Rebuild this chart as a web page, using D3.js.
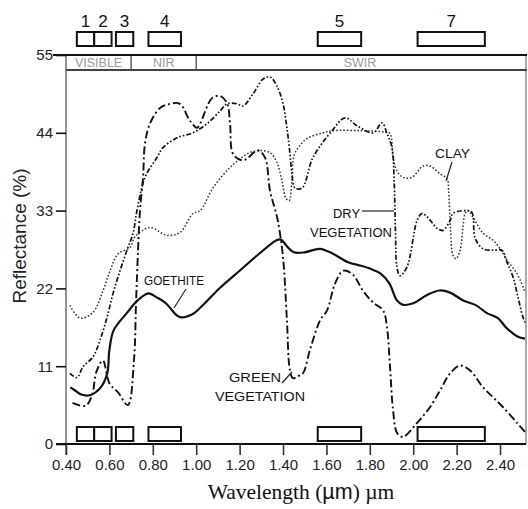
<!DOCTYPE html>
<html>
<head>
<meta charset="utf-8">
<script src="https://cdn.jsdelivr.net/npm/d3@7"></script>
<style>
  html, body { margin: 0; padding: 0; background: #fff; }
  svg { display: block; }
  text { font-family: "Liberation Sans", Arial, Helvetica, sans-serif; fill: #111; }
</style>
</head>
<body>
<svg id="chart" width="528" height="509"></svg>
<script>
// Spectral reflectance curves (wavelength in µm, reflectance in %)
const goethiteWl = [0.42,0.44,0.47,0.51,0.56,0.59,0.60,0.62,0.68,0.73,0.78,0.82,0.86,0.91,0.93,0.98,1.02,1.11,1.20,1.29,1.37,1.39,1.42,1.45,1.50,1.57,1.63,1.70,1.76,1.80,1.85,1.89,1.925,1.95,2.00,2.06,2.12,2.17,2.23,2.29,2.34,2.39,2.43,2.48,2.515];
const goethiteRef = [8.0,7.6,7.0,6.9,8.0,10.0,13.3,16.1,18.5,20.3,21.3,20.7,19.9,18.2,17.9,18.3,19.3,22.1,24.5,26.9,28.8,28.9,27.9,27.1,27.1,27.6,26.9,25.7,25.2,24.8,24.1,22.7,20.3,19.7,19.9,21.0,21.7,21.4,20.3,19.6,18.5,17.8,16.4,15.2,14.9];

const greenVegWl = [0.43,0.49,0.52,0.54,0.57,0.60,0.64,0.685,0.713,0.723,0.732,0.741,0.755,0.764,0.787,0.833,0.879,0.925,0.971,1.004,1.018,1.073,1.110,1.142,1.156,1.170,1.216,1.285,1.317,1.340,1.373,1.395,1.405,1.418,1.432,1.446,1.469,1.492,1.524,1.571,1.603,1.640,1.677,1.72,1.77,1.815,1.861,1.879,1.893,1.907,1.925,1.953,2.018,2.077,2.124,2.170,2.216,2.262,2.322,2.368,2.414,2.478,2.515];
const greenVegRef = [5.8,5.4,6.9,10.2,11.8,8.6,7.3,5.5,11.8,20.3,27.4,33.0,37.7,42.5,45.3,47.5,48.1,48.1,45.7,44.7,45.3,48.9,49.2,48.2,45.3,41.0,40.1,41.5,40.5,35.8,32.0,27.8,24.5,17.5,10.4,9.3,9.6,10.0,13.3,17.5,18.9,22.7,24.5,24.0,21.6,20.0,18.9,16.5,10.9,4.8,1.6,1.0,3.0,5.2,7.6,10.0,11.1,10.4,8.0,6.6,5.2,3.0,1.7];

const dryVegWl = [0.418,0.451,0.478,0.524,0.557,0.589,0.617,0.649,0.681,0.709,0.727,0.764,0.819,0.847,0.912,0.985,1.050,1.110,1.142,1.188,1.216,1.262,1.308,1.340,1.372,1.400,1.418,1.432,1.441,1.455,1.488,1.538,1.626,1.686,1.741,1.815,1.856,1.879,1.902,1.912,1.918,1.925,1.939,1.971,2.018,2.041,2.068,2.110,2.137,2.170,2.183,2.248,2.271,2.285,2.322,2.368,2.409,2.432,2.460,2.483,2.506,2.515];
const dryVegRef = [10.0,9.4,10.9,12.3,14.7,17.9,21.3,24.5,27.4,29.8,33.0,37.7,40.5,41.9,43.3,44.0,45.3,47.1,48.1,48.1,47.8,49.5,51.6,51.9,50.6,48.1,44.7,41.0,38.2,36.2,36.2,40.5,44.3,46.1,45.0,44.0,45.4,43.9,41.9,37.2,30.2,25.0,23.8,25.0,31.6,32.6,32.0,30.5,30.2,31.6,32.6,33.0,32.7,29.1,27.6,27.4,27.4,25.7,23.6,20.7,17.9,17.2];

const clayWl = [0.418,0.465,0.524,0.571,0.603,0.640,0.695,0.718,0.787,0.865,0.925,0.985,1.018,1.077,1.156,1.234,1.285,1.340,1.372,1.395,1.414,1.428,1.441,1.451,1.478,1.511,1.584,1.630,1.755,1.870,1.893,1.907,1.925,1.953,1.994,2.045,2.077,2.124,2.156,2.163,2.172,2.183,2.197,2.216,2.230,2.239,2.253,2.276,2.322,2.368,2.400,2.432,2.478,2.515];
const clayRef = [19.6,17.8,18.6,21.7,24.5,26.9,27.8,29.3,30.6,29.5,29.9,32.6,33.0,36.2,39.1,41.0,41.5,41.2,39.8,37.2,34.7,34.4,37.2,40.8,42.2,43.2,44.0,44.3,44.3,44.1,43.9,40.5,38.6,37.7,37.7,39.3,39.3,38.2,37.5,35.8,30.2,26.7,26.2,27.4,30.9,32.6,33.0,32.0,29.8,28.8,27.6,26.0,24.1,21.5];

// Axis ticks
const xTicks = [0.4,0.6,0.8,1.0,1.2,1.4,1.6,1.8,2.0,2.2,2.4];
const yTicks = [0,11,22,33,44,55];

// Spectral regions along the top
const regionNames = ["VISIBLE","NIR","SWIR"];
const regionEdges = [0.4,0.7,1.0,2.515];

// Landsat TM bands
const tmBandNames = ["1","2","3","4","5","7"];
const tmBandStart = [0.45,0.53,0.63,0.78,1.56,2.02];
const tmBandEnd   = [0.53,0.61,0.71,0.93,1.76,2.33];

const svg = d3.select("#chart");
const x = d3.scaleLinear().domain([0.4, 2.515]).range([66, 525]);
const y = d3.scaleLinear().domain([0, 55]).range([444, 55]);

// frame: left axis line and right border
svg.append("line").attr("x1", 66).attr("x2", 66).attr("y1", 55).attr("y2", 455)
  .attr("stroke", "#777").attr("stroke-width", 1.6);
svg.append("line").attr("x1", 526).attr("x2", 526).attr("y1", 55).attr("y2", 444)
  .attr("stroke", "#888").attr("stroke-width", 1.4);

// region strip
const yTop = y(55), yStrip = 70;
svg.append("line").attr("x1", 66).attr("x2", 527).attr("y1", yStrip).attr("y2", yStrip)
  .attr("stroke", "#444").attr("stroke-width", 1.8);
regionEdges.slice(1, -1).forEach(e => {
  svg.append("line").attr("x1", x(e)).attr("x2", x(e)).attr("y1", yTop).attr("y2", yStrip)
    .attr("stroke", "#555").attr("stroke-width", 1.4);
});
regionNames.forEach((n, i) => {
  const cx = (x(regionEdges[i]) + x(Math.min(regionEdges[i + 1], 2.4))) / 2;
  svg.append("text").attr("x", i === 2 ? 360 : cx).attr("y", 67)
    .attr("text-anchor", "middle").attr("font-size", 12.5)
    .style("fill", "#9a9a9a").text(n);
});
svg.append("line").attr("x1", 53).attr("x2", 527).attr("y1", yTop).attr("y2", yTop)
  .attr("stroke", "#111").attr("stroke-width", 2);

// x axis
svg.append("line").attr("x1", 56).attr("x2", 526).attr("y1", 444).attr("y2", 444)
  .attr("stroke", "#111").attr("stroke-width", 2);
const gx = svg.append("g").attr("transform", "translate(0,444)")
  .call(d3.axisBottom(x).tickValues(xTicks).tickFormat(d3.format(".2f")).tickSize(11).tickPadding(4));
gx.select(".domain").remove();
gx.selectAll(".tick line").attr("stroke", "#333").attr("stroke-width", 1.6);
gx.selectAll(".tick text").attr("font-size", 15).style("fill", "#222");

// y axis
const gy = svg.append("g").attr("transform", "translate(66,0)")
  .call(d3.axisLeft(y).tickValues(yTicks).tickSize(10).tickPadding(3));
gy.select(".domain").remove();
gy.selectAll(".tick line").attr("stroke", "#111").attr("stroke-width", 1.6);
gy.selectAll(".tick text").attr("font-size", 15).style("fill", "#222");

// axis titles
svg.append("text").attr("transform", "translate(26,236) rotate(-90)")
  .attr("text-anchor", "middle").attr("font-size", 19).style("fill", "#222")
  .text("Reflectance (%)");
const xt = svg.append("text").attr("x", 301).attr("y", 499).attr("text-anchor", "middle")
  .attr("font-size", 21.5).style("fill", "#111");
xt.append("tspan").style("font-family", "'Liberation Serif', 'Times New Roman', serif").text("Wavelength (");
xt.append("tspan").style("font-family", "'Liberation Sans', Arial, sans-serif").text("µm");
xt.append("tspan").style("font-family", "'Liberation Serif', 'Times New Roman', serif").text(") µm");

// TM band boxes, top and bottom rows
[[32, 46], [427, 441]].forEach(([t, b]) => {
  tmBandNames.forEach((n, i) => {
    svg.append("rect").attr("x", x(tmBandStart[i])).attr("y", t)
      .attr("width", x(tmBandEnd[i]) - x(tmBandStart[i])).attr("height", b - t)
      .attr("fill", "#fff").attr("stroke", "#111").attr("stroke-width", 2);
  });
});
tmBandNames.forEach((n, i) => {
  svg.append("text").attr("x", x((tmBandStart[i] + tmBandEnd[i]) / 2)).attr("y", 27)
    .attr("text-anchor", "middle").attr("font-size", 17).style("fill", "#111").text(n);
});

// spectra
const line = d3.line().x(d => x(d[0])).y(d => y(d[1])).curve(d3.curveCatmullRom.alpha(0.5));
const series = [
  { wl: clayWl, ref: clayRef, dash: "1.6,1.9", width: 1.5, color: "#333" },
  { wl: dryVegWl, ref: dryVegRef, dash: "5,2,1.6,2,1.6,2", width: 1.7, color: "#111" },
  { wl: greenVegWl, ref: greenVegRef, dash: "8,3,2,3", width: 1.9, color: "#111" },
  { wl: goethiteWl, ref: goethiteRef, dash: null, width: 2.2, color: "#111" }
];
series.forEach(s => {
  svg.append("path").datum(s.wl.map((w, i) => [w, s.ref[i]]))
    .attr("d", line).attr("fill", "none").attr("stroke", s.color)
    .attr("stroke-width", s.width).attr("stroke-dasharray", s.dash)
    .attr("stroke-linejoin", "round");
});

// curve labels with leader lines
const labelFont = 13;
function label(txt, lx, ly, len) {
  svg.append("text").attr("x", lx).attr("y", ly).attr("font-size", labelFont)
    .attr("textLength", len).attr("lengthAdjust", "spacingAndGlyphs")
    .style("fill", "#111").text(txt);
}
function leader(x1, y1, x2, y2) {
  svg.append("line").attr("x1", x1).attr("y1", y1).attr("x2", x2).attr("y2", y2)
    .attr("stroke", "#222").attr("stroke-width", 1.2);
}
label("GOETHITE", 144, 285, 60);
leader(186, 289, 174, 308);
label("GREEN", 229, 382, 52);
label("VEGETATION", 215, 401, 90);
leader(282, 383, 292, 372);
label("DRY", 333, 218, 27);
label("VEGETATION", 310, 237, 82);
leader(362, 211, 394, 211);
label("CLAY", 435, 158, 35);
leader(452, 162, 446, 181);
</script>
</body>
</html>
